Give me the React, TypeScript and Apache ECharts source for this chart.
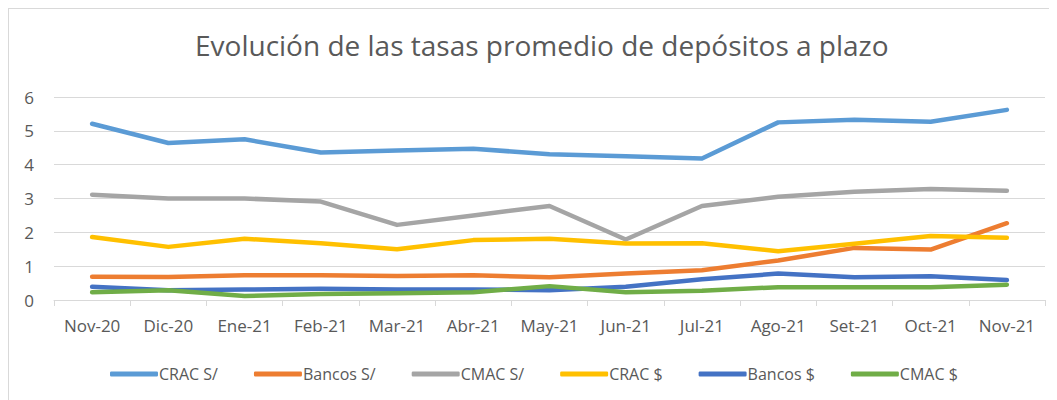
import React, { useEffect, useRef } from "react";
import * as echarts from "echarts";

const categories = ["Nov-20", "Dic-20", "Ene-21", "Feb-21", "Mar-21", "Abr-21", "May-21", "Jun-21", "Jul-21", "Ago-21", "Set-21", "Oct-21", "Nov-21"];
const cracSoles = [5.21, 4.64, 4.75, 4.36, 4.42, 4.47, 4.31, 4.25, 4.18, 5.25, 5.33, 5.27, 5.62];
const bancosSoles = [0.69, 0.68, 0.73, 0.73, 0.71, 0.73, 0.67, 0.78, 0.88, 1.17, 1.54, 1.49, 2.27];
const cmacSoles = [3.11, 3.0, 3.0, 2.91, 2.22, 2.5, 2.78, 1.79, 2.78, 3.05, 3.2, 3.28, 3.23];
const cracDolares = [1.86, 1.57, 1.81, 1.68, 1.5, 1.77, 1.81, 1.67, 1.68, 1.44, 1.66, 1.89, 1.84];
const bancosDolares = [0.39, 0.29, 0.31, 0.33, 0.31, 0.31, 0.29, 0.39, 0.61, 0.78, 0.67, 0.7, 0.59];
const cmacDolares = [0.23, 0.29, 0.12, 0.18, 0.2, 0.23, 0.41, 0.23, 0.27, 0.38, 0.38, 0.38, 0.45];

const seriesDefs = [
  { name: "CRAC S/", data: cracSoles, color: "#5B9BD5" },
  { name: "Bancos S/", data: bancosSoles, color: "#ED7D31" },
  { name: "CMAC S/", data: cmacSoles, color: "#A5A5A5" },
  { name: "CRAC $", data: cracDolares, color: "#FFC000" },
  { name: "Bancos $", data: bancosDolares, color: "#4472C4" },
  { name: "CMAC $", data: cmacDolares, color: "#70AD47" },
];

const FONT = "'Open Sans', 'Noto Sans', sans-serif";

export default function App() {
  const ref = useRef<HTMLDivElement>(null);
  useEffect(() => {
    if (!ref.current) return;
    const chart = echarts.init(ref.current, undefined, { renderer: "svg" });
    chart.setOption({
      animation: false,
      backgroundColor: "#ffffff",
      title: {
        text: "Evolución de las tasas promedio de depósitos a plazo",
        left: 181,
        top: 17,
        textStyle: { fontFamily: FONT, fontSize: 28, fontWeight: "normal", color: "#595959" },
      },
      legend: {
        bottom: 13,
        left: 96,
        itemWidth: 48,
        itemHeight: 5,
        itemGap: 36,
        icon: "roundRect",
        textStyle: { fontFamily: FONT, fontSize: 16, color: "#595959", padding: [0, 0, 0, -4] },
        data: seriesDefs.map((s) => ({ name: s.name, itemStyle: { color: s.color } })),
      },
      grid: { left: 45, right: 12, top: 88, bottom: 100 },
      xAxis: {
        type: "category",
        data: categories,
        boundaryGap: true,
        axisLine: { lineStyle: { color: "#d9d9d9", width: 1 } },
        axisTick: { show: true, length: 6, lineStyle: { color: "#d9d9d9" } },
        axisLabel: { fontFamily: FONT, fontSize: 17, color: "#595959", margin: 17 },
      },
      yAxis: {
        type: "value",
        min: 0,
        max: 6,
        interval: 1,
        axisLine: { show: false },
        axisTick: { show: false },
        axisLabel: { fontFamily: FONT, fontSize: 17, color: "#595959", margin: 20 },
        splitLine: { lineStyle: { color: "#d9d9d9", width: 1 } },
      },
      series: seriesDefs.map((s) => ({
        name: s.name,
        type: "line",
        data: s.data,
        showSymbol: false,
        symbol: "none",
        lineStyle: { color: s.color, width: 4.5, cap: "round", join: "round" },
        itemStyle: { color: s.color },
      })),
    });
    return () => chart.dispose();
  }, []);
  return (
    <div
      style={{
        width: 1049,
        height: 392,
        borderLeft: "1px solid #d9d9d9",
        borderTop: "1px solid #d9d9d9",
        boxSizing: "border-box",
        overflow: "hidden",
      }}
    >
      <div ref={ref} style={{ width: 1048, height: 391 }} />
    </div>
  );
}
